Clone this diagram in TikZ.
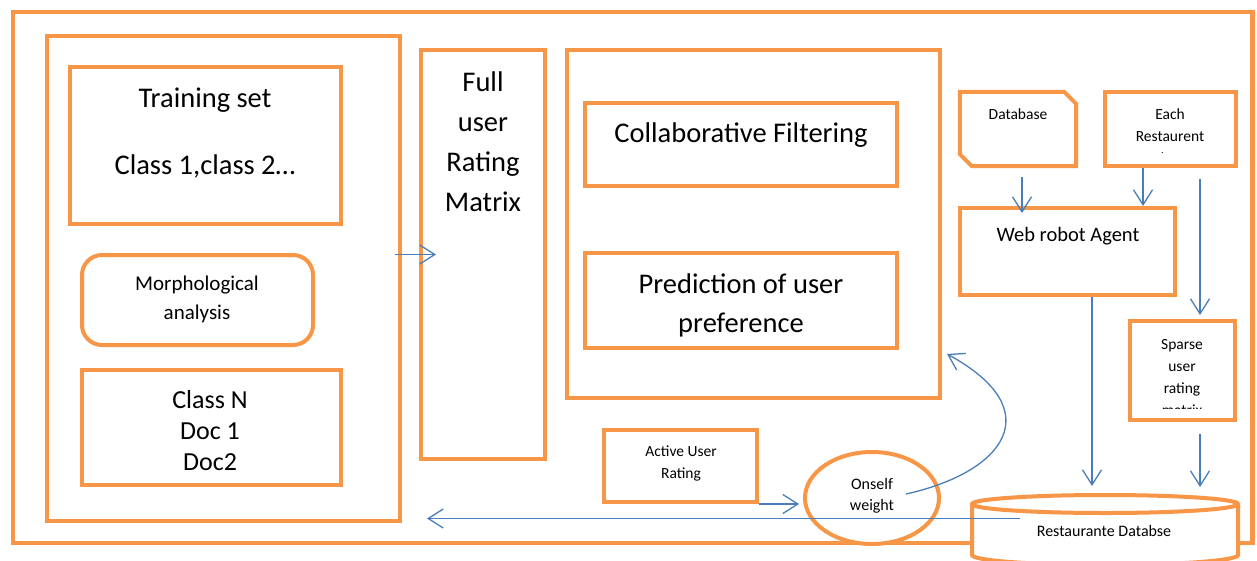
\documentclass[tikz,border=0pt]{standalone}
\usepackage{fontspec}
\setmainfont{Carlito}
\usetikzlibrary{shapes.geometric,arrows.meta,calc}
\definecolor{boxorange}{RGB}{247,150,70}
\definecolor{flowblue}{RGB}{74,126,187}
\newcommand{\txtsize}[2]{\fontsize{#1}{#2}\selectfont}
\tikzset{
    box/.style={draw=boxorange, line width=4pt, fill=white, inner sep=0pt},
    flow/.style={draw=flowblue, line width=1.3pt, -{Straight Barb[length=15pt,width=19pt]}},
    txt/.style={align=center, inner sep=0pt, text=black}
}
\begin{document}
\begin{tikzpicture}[x=1pt, y=-1pt]
    \useasboundingbox (0,0) rectangle (1257,560);
    \fill[white] (0,0) rectangle (1257,560);

    \node[box, minimum width=1239, minimum height=531] (frame) at (632.5,277.5) {};
    \draw[white, line width=3pt] (frame.north east) -- (frame.south east);
    \draw[boxorange, line width=1.2pt] (frame.north east) -- (frame.south east);

    \node[box, minimum width=353, minimum height=485] (leftbox) at (223.5,278.5) {};
    \node[box, minimum width=271, minimum height=157] (train) at (205.5,145.5) {};
    \node[box, minimum width=231, minimum height=90, rounded corners=20pt] (morph) at (197.5,300) {};
    \node[box, minimum width=259, minimum height=115] (classn) at (211.5,427.5) {};
    \node[box, minimum width=124, minimum height=409] (fullmat) at (483,254.5) {};
    \node[box, minimum width=373, minimum height=348] (cfbig) at (753.5,224) {};
    \node[box, minimum width=312, minimum height=83] (cf) at (741,144.5) {};
    \node[box, minimum width=312, minimum height=95] (pred) at (741,300.5) {};
    \node[inner sep=0pt, minimum width=116, minimum height=74] (dbnote) at (1018,129) {};
    \draw[box] (dbnote.north west) -- ($(dbnote.north east)+(-12,0)$) -- ($(dbnote.north east)+(0,12)$)
        -- (dbnote.south east) -- ($(dbnote.south west)+(12,0)$) -- ($(dbnote.south west)+(0,-12)$) -- cycle;
    \node[box, minimum width=131, minimum height=74] (each) at (1170.5,129) {};
    \node[box, minimum width=215, minimum height=87] (robot) at (1067.5,251.5) {};
    \node[box, minimum width=105, minimum height=99] (sparse) at (1182.5,370.5) {};
    \node[box, minimum width=153, minimum height=72] (active) at (680.5,466) {};
    \node[box, ellipse, minimum width=134, minimum height=92] (onself) at (872,498) {};

    \draw[box] (972,504) -- (972,555) arc[start angle=180, end angle=360, x radius=133pt, y radius=10pt] -- (1238,504);
    \draw[box] (1105,504) ellipse [x radius=133pt, y radius=9pt];
    \coordinate (cyltop) at (1105,495);

    \node[txt, font=\txtsize{28.5}{67}] (traintxt) at (205,133.5) {Training set\\Class 1,class 2…};
    \node[txt, font=\txtsize{21}{29}] (morphtxt) at (197,299.5) {Morphological\\analysis};
    \node[txt, font=\txtsize{26}{31}] (classntxt) at (210,430.5) {Class N\\Doc 1\\Doc2};
    \node[txt, font=\txtsize{28.5}{40}] (fulltxt) at (483,141.5) {Full\\user\\Rating\\Matrix};
    \node[txt, font=\txtsize{28.5}{34}] (cftxt) at (741,135) {Collaborative Filtering};
    \node[txt, font=\txtsize{28.5}{39}] (predtxt) at (741,305) {Prediction of user\\preference};
    \node[txt, font=\txtsize{15.5}{19}] (databasetxt) at (1018,114.5) {Database};
    \begin{scope}
        \clip (1108,95) rectangle (1233,152.5);
        \node[txt, font=\txtsize{15.5}{22}] (eachtxt) at (1170,136.5) {Each\\Restaurent\\data};
    \end{scope}
    \node[txt, font=\txtsize{20.5}{25}] (robottxt) at (1068,236) {Web robot Agent};
    \begin{scope}
        \clip (1133,324) rectangle (1232,408.5);
        \node[txt, font=\txtsize{15.5}{22}] (sparsetxt) at (1182,377.5) {Sparse\\user\\rating\\matrix};
    \end{scope}
    \node[txt, font=\txtsize{15.5}{22}] (activetxt) at (681,463.5) {Active User\\Rating};
    \node[txt, font=\txtsize{16}{21}] (onselftxt) at (872,496) {Onself\\weight};
    \node[txt, font=\txtsize{16}{19}] (cyltxt) at (1104,530.5) {Restaurante Databse};

    \draw[flow] ($(leftbox.east |- fullmat.west)+(-7,0)$) -- ($(fullmat.west)+(17,0)$);
    \draw[flow] ($(dbnote.south)+(4,11)$) coordinate (d1) -- ($(d1 |- robot.north)+(0,7)$);
    \draw[flow] ($(each.south)+(-27.5,0)$) coordinate (e0) -- (e0 |- robot.north);
    \draw[flow] ($(each.south)+(29.5,11)$) coordinate (e1) -- ($(e1 |- sparse.north)+(0,-4)$);
    \draw[flow] ($(robot.south)+(24.5,0)$) coordinate (r1) -- ($(r1 |- cyltop)+(0,-9)$);
    \draw[flow] ($(sparse.south)+(17.5,12)$) coordinate (s1) -- ($(s1 |- cyltop)+(0,-8)$);
    \draw[flow] (active.south east) -- ($(onself.west |- active.south east)+(-4,0)$);
    \draw[flow] ($(cyltxt.center)+(-84,-12)$) coordinate (l1) -- ($(leftbox.east |- l1)+(25,0)$);
    \draw[flow] ($(onself.center)+(34,-4)$) .. controls (1005,472) and (1050,410) .. ($(cfbig.south east)+(5,-46)$);
\end{tikzpicture}
\end{document}
